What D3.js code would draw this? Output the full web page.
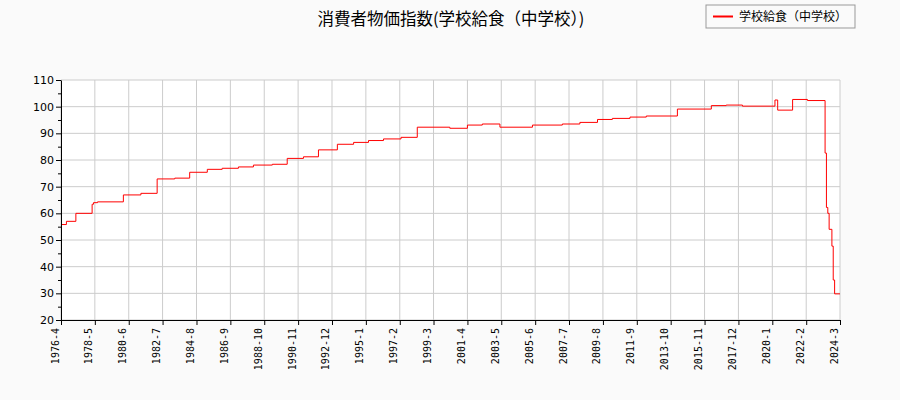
<!DOCTYPE html>
<html><head><meta charset="utf-8">
<script src="https://cdn.jsdelivr.net/npm/d3@7"></script>
<style>body{margin:0;background:#fafafa;font-family:"Noto Sans CJK JP","DejaVu Sans",sans-serif}</style>
</head><body><svg id="c" width="900" height="400"></svg>
<script>
const title = "消費者物価指数(学校給食（中学校）)";
const seriesName = "学校給食（中学校）";
const changeDates = ["1976-04","1976-08","1977-03","1978-03","1978-04","1978-07","1980-02","1981-03","1982-03","1983-04","1984-03","1985-04","1986-03","1987-03","1988-02","1989-04","1990-03","1991-03","1992-02","1993-04","1994-04","1995-03","1996-02","1997-03","1998-03","2000-03","2001-04","2002-03","2003-04","2005-04","2007-02","2008-03","2009-04","2010-03","2011-04","2012-04","2014-03","2016-04","2017-03","2018-03","2020-03","2020-05","2021-04","2022-03","2023-04","2023-05","2023-06","2023-07","2023-09","2023-10","2023-11","2024-03"];
const changeValues = [55.8,57.0,60.0,63.4,64.0,64.3,66.9,67.5,72.9,73.2,75.4,76.5,76.9,77.4,78.1,78.4,80.6,81.2,83.8,85.9,86.6,87.3,87.9,88.5,92.3,91.9,93.1,93.5,92.3,93.1,93.5,94.1,95.2,95.6,96.1,96.5,99.1,100.4,100.6,100.2,102.5,98.7,102.7,102.3,82.6,62.2,60.0,54.0,47.7,35.0,29.8,29.8];
const xTicks = ["1976-4","1978-5","1980-6","1982-7","1984-8","1986-9","1988-10","1990-11","1992-12","1995-1","1997-2","1999-3","2001-4","2003-5","2005-6","2007-7","2009-8","2011-9","2013-10","2015-11","2017-12","2020-1","2022-2","2024-3"];
const yTicks = [20,30,40,50,60,70,80,90,100,110];

const pd = s => { const [y,m] = s.split("-").map(Number); return new Date(y, m-1, 1); };
const svg = d3.select("#c");
const L=61, R=840, T=80, B=320;
const x = d3.scaleTime().domain([pd("1976-04"), pd("2024-03")]).range([L,R]);
const y = d3.scaleLinear().domain([20,110]).range([B,T]);
svg.append("rect").attr("x",L).attr("y",T).attr("width",R-L).attr("height",B-T).attr("fill","#fff");
const g = svg.append("g");
xTicks.forEach(t=>{ g.append("line").attr("x1",x(pd(t))).attr("x2",x(pd(t))).attr("y1",T).attr("y2",B).attr("stroke","#ccc"); });
yTicks.forEach(t=>{ g.append("line").attr("x1",L).attr("x2",R).attr("y1",y(t)).attr("y2",y(t)).attr("stroke","#ccc"); });
const data = changeDates.map((d,i)=>({d:pd(d),v:changeValues[i]}));
svg.append("path").datum(data).attr("fill","none").attr("stroke","red").attr("stroke-width",1)
  .attr("d", d3.line().x(d=>x(d.d)).y(d=>y(d.v)).curve(d3.curveStepAfter));
const ya = svg.append("g").attr("transform",`translate(${L},0)`)
  .call(d3.axisLeft(y).tickValues(d3.range(20,111,5)).tickFormat(d=>d%10===0?d:"").tickSize(4).tickSizeOuter(0));
ya.selectAll("line").attr("stroke","#000").attr("x2",d=>d%10===0?-5:-3);
ya.selectAll("text").attr("font-size",11).attr("fill","#000").attr("font-family","DejaVu Sans");
ya.select(".domain").attr("stroke","#000");
const xa = svg.append("g").attr("transform",`translate(0,${B})`)
  .call(d3.axisBottom(x).tickValues(xTicks.map(pd)).tickFormat((d,i)=>xTicks[i]).tickSize(5).tickSizeOuter(0));
xa.select(".domain").attr("stroke","#000");
xa.selectAll("line").attr("stroke","#000");
xa.selectAll("text").attr("font-size",10).attr("fill","#000").attr("font-family","DejaVu Sans Mono")
  .attr("text-anchor","end").attr("transform","rotate(-90)").attr("dx","-0.6em").attr("dy","-0.3em").attr("y",0).attr("x",-2);
svg.append("text").attr("x",451).attr("y",25).attr("text-anchor","middle").attr("font-size",16.5).text(title);
svg.append("rect").attr("x",706).attr("y",5).attr("width",149).attr("height",23).attr("fill","#fafafa").attr("stroke","#999");
svg.append("line").attr("x1",713).attr("x2",733).attr("y1",16.5).attr("y2",16.5).attr("stroke","red").attr("stroke-width",2);
svg.append("text").attr("x",739).attr("y",21).attr("font-size",12).text(seriesName);
</script></body></html>
